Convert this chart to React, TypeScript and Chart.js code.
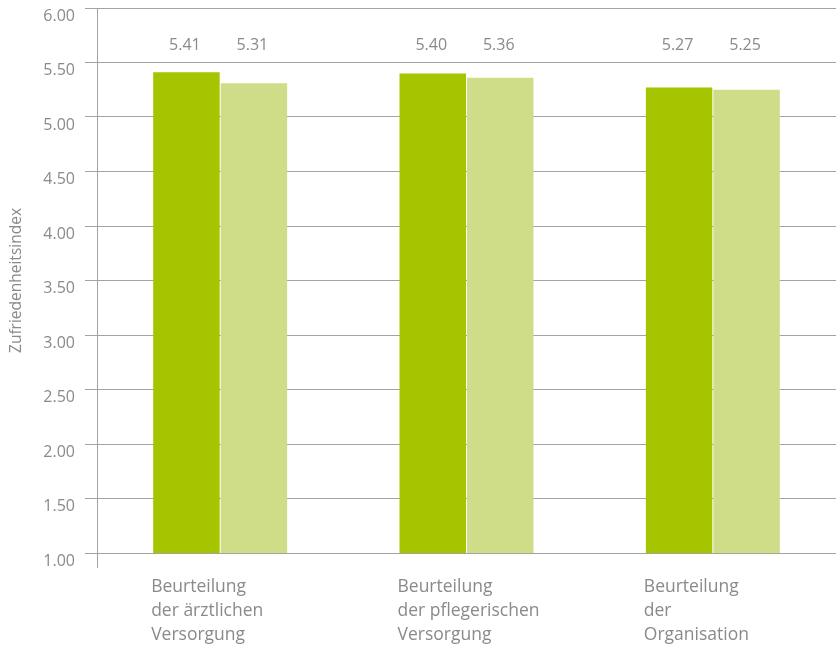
import React, { useEffect, useRef } from "react";
import { Chart, registerables } from "chart.js";

Chart.register(...registerables);

const categories: string[][] = [
  ["Beurteilung", "der ärztlichen", "Versorgung"],
  ["Beurteilung", "der pflegerischen", "Versorgung"],
  ["Beurteilung", "der", "Organisation"],
];
const seriesA: number[] = [5.41, 5.4, 5.27];
const seriesB: number[] = [5.31, 5.36, 5.25];
const yTitle = "Zufriedenheitsindex";
const yMin = 1;
const yMax = 6;
const yStep = 0.5;

const FONT = "'Open Sans', 'Noto Sans', sans-serif";
const TEXT = "#8a8a8a";
const GRID = "#a3a3a3";
const DARK = "#a6c400";
const LIGHT = "#cfdd89";

const valueLabels = {
  id: "valueLabels",
  afterDatasetsDraw(chart: any) {
    const { ctx, chartArea } = chart;
    ctx.save();
    ctx.font = `16px ${FONT}`;
    ctx.fillStyle = TEXT;
    ctx.textAlign = "center";
    ctx.textBaseline = "middle";
    chart.data.datasets.forEach((ds: any, i: number) => {
      const meta = chart.getDatasetMeta(i);
      meta.data.forEach((bar: any, j: number) => {
        ctx.fillText(Number(ds.data[j]).toFixed(2), bar.x - 1.5, chartArea.top + 37);
      });
    });
    ctx.restore();
  },
};

const axisExtension = {
  id: "axisExtension",
  afterDraw(chart: any) {
    const { ctx, chartArea } = chart;
    ctx.save();
    ctx.strokeStyle = GRID;
    ctx.lineWidth = 1;
    ctx.beginPath();
    ctx.moveTo(chartArea.left + 0.5, chartArea.bottom);
    ctx.lineTo(chartArea.left + 0.5, chartArea.bottom + 15);
    ctx.stroke();
    ctx.restore();
  },
};

export default function App() {
  const ref = useRef<HTMLCanvasElement | null>(null);
  useEffect(() => {
    document.body.style.margin = "0";
    if (!ref.current) return;
    const chart = new Chart(ref.current, {
      type: "bar",
      data: {
        labels: categories,
        datasets: [
          {
            label: "A",
            data: seriesA,
            backgroundColor: DARK,
            categoryPercentage: 0.548,
            barPercentage: 0.985,
          },
          {
            label: "B",
            data: seriesB,
            backgroundColor: LIGHT,
            categoryPercentage: 0.548,
            barPercentage: 0.985,
          },
        ],
      },
      options: {
        animation: false,
        responsive: false,
        maintainAspectRatio: false,
        layout: { padding: { top: 8, right: 0, left: 0, bottom: 0 } },
        plugins: {
          legend: { display: false },
          tooltip: { enabled: false },
        },
        scales: {
          x: {
            grid: { display: false, drawTicks: false },
            border: { display: false },
            ticks: {
              align: "start",
              labelOffset: -69,
              padding: 22,
              color: TEXT,
              font: { family: FONT, size: 17.5, lineHeight: "24px" },
              maxRotation: 0,
              autoSkip: false,
            },
            afterFit(scale: any) {
              scale.height = 93;
              scale.paddingLeft = 0;
              scale.paddingRight = 0;
            },
          },
          y: {
            min: yMin,
            max: yMax,
            grid: { color: GRID, tickLength: 12, lineWidth: 1 },
            border: { display: true, color: GRID },
            ticks: {
              stepSize: yStep,
              color: TEXT,
              padding: 10,
              labelOffset: 8,
              font: { family: FONT, size: 16 },
              callback: (v: any) => Number(v).toFixed(2),
            },
            title: {
              display: true,
              text: yTitle,
              color: TEXT,
              font: { family: FONT, size: 15.5 },
              padding: { top: 7, bottom: 0 },
            },
            afterFit(scale: any) {
              scale.width = 97;
              scale.paddingTop = 0;
              scale.paddingBottom = 0;
            },
          },
        },
      },
      plugins: [valueLabels, axisExtension],
    });
    return () => chart.destroy();
  }, []);
  return (
    <div style={{ width: 836, height: 646 }}>
      <canvas ref={ref} width={836} height={646} style={{ display: "block" }} />
    </div>
  );
}
